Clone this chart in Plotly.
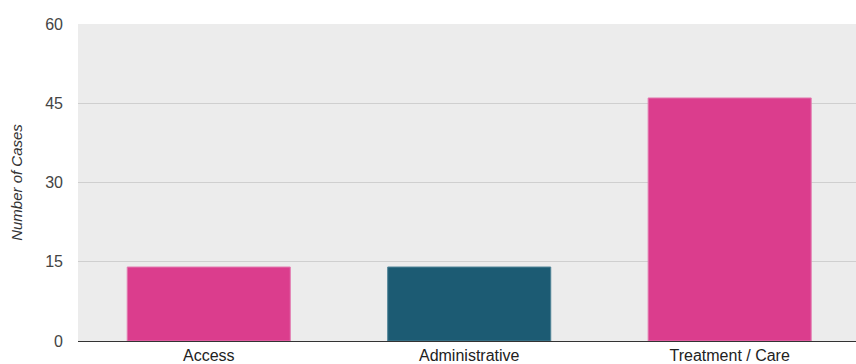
import plotly.graph_objects as go

categories = ["Access", "Administrative", "Treatment / Care"]
cases = [14, 14, 46]
bar_colors = ["#DB3D8D", "#1C5B73", "#DB3D8D"]
border_colors = ["#E27AB0", "#4F8397", "#E27AB0"]
y_ticks = [0, 15, 30, 45, 60]

fig = go.Figure(go.Bar(
    x=categories, y=cases,
    marker=dict(color=bar_colors, line=dict(color=border_colors, width=1)),
    width=0.626,
))
fig.update_layout(
    width=856, height=364,
    margin=dict(l=78, r=0, t=24, b=23),
    paper_bgcolor="white", plot_bgcolor="#ECECEC",
    font=dict(family="Liberation Sans, Arial, sans-serif", size=16, color="#444444"),
    showlegend=False,
)
fig.update_xaxes(showgrid=False, showline=True, linecolor="#333333", linewidth=1,
                 range=[-0.502, 2.485],
                 ticks="", tickfont=dict(color="#222222", size=16))
fig.update_yaxes(range=[0, 60], tickvals=y_ticks, gridcolor="#CFCFCF", gridwidth=1,
                 zeroline=False, showline=False, ticks="", ticklabelstandoff=14,
                 tickfont=dict(color="#444444", size=16),
                 title=dict(text="<i>Number of Cases</i>", font=dict(size=15, color="#333333"), standoff=18))
fig.write_html("out.html")
